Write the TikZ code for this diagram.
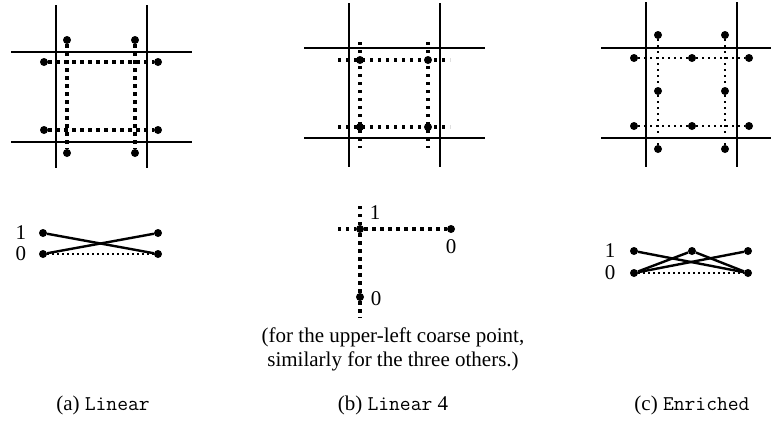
\documentclass[tikz,border=0pt]{standalone}
\usepackage{fontspec}
\setmainfont{Liberation Serif}
\begin{document}
\begin{tikzpicture}[x=1pt,y=-1pt,
  gridline/.style={line width=2.4pt},
  thickdot/.style={line width=3.4pt, dash pattern=on 3.4pt off 4.6pt},
  thindot/.style={line width=2.2pt, dash pattern=on 2.2pt off 3.8pt},
  finedot/.style={line width=2pt, dash pattern=on 2pt off 3pt},
  solidlink/.style={line width=2.4pt},
  dot/.style={circle, fill, inner sep=0pt, minimum size=8pt},
  lab/.style={font=\fontsize{21}{24}\selectfont, inner sep=0pt},
]
\useasboundingbox (0,0) rectangle (772,421);

% ---------- (a) Linear: fine grid ----------
\draw[gridline] (56,5) -- (56,168) (147,5) -- (147,168)
                (11,52) -- (192,52) (11,142) -- (192,142);
\node[dot] (aT1) at (67,40) {};
\node[dot] (aT2) at (135,40) {};
\node[dot] (aL1) at (44,62) {};
\node[dot] (aR1) at (158,62) {};
\node[dot] (aL2) at (44,130) {};
\node[dot] (aR2) at (158,130) {};
\node[dot] (aB1) at (67,153) {};
\node[dot] (aB2) at (135,153) {};
\draw[thickdot] (aL1) -- (aR1);
\draw[thickdot] (aL2) -- (aR2);
\draw[thickdot] (aT1) -- (aB1);
\draw[thickdot] (aT2) -- (aB2);

% ---------- (b) Linear 4: fine grid ----------
\draw[gridline] (349,3) -- (349,167) (440,3) -- (440,167)
                (304,48) -- (485,48) (304,138) -- (485,138);
\coordinate (bH1s) at (338,60);  \coordinate (bH1e) at (450,60);
\coordinate (bH2s) at (338,127); \coordinate (bH2e) at (450,127);
\coordinate (bV1s) at (360,42);  \coordinate (bV1e) at (360,148);
\coordinate (bV2s) at (428,42);  \coordinate (bV2e) at (428,148);
\draw[thickdot] (bH1s) -- (bH1e);
\draw[thickdot] (bH2s) -- (bH2e);
\draw[thickdot] (bV1s) -- (bV1e);
\draw[thickdot] (bV2s) -- (bV2e);
\node[dot] (bP1) at (360,60) {};
\node[dot] (bP2) at (428,60) {};
\node[dot] (bP3) at (360,127) {};
\node[dot] (bP4) at (428,127) {};

% ---------- (c) Enriched: fine grid ----------
\draw[gridline] (646,2) -- (646,167) (737,2) -- (737,167)
                (601,48) -- (771,48) (601,138) -- (771,138);
\node[dot] (cT1) at (658,35) {};
\node[dot] (cT2) at (725,35) {};
\node[dot] (cL1) at (634,58) {};
\node[dot] (cM1) at (692,58) {};
\node[dot] (cR1) at (749,58) {};
\node[dot] (cS1) at (658,91) {};
\node[dot] (cS2) at (725,91) {};
\node[dot] (cL2) at (634,126) {};
\node[dot] (cM2) at (692,126) {};
\node[dot] (cR2) at (749,126) {};
\node[dot] (cB1) at (658,149) {};
\node[dot] (cB2) at (725,149) {};
\draw[thindot] (cL1) -- (cM1) -- (cR1);
\draw[thindot] (cL2) -- (cM2) -- (cR2);
\draw[thindot] (cT1) -- (cS1) -- (cB1);
\draw[thindot] (cT2) -- (cS2) -- (cB2);

% ---------- basis functions ----------
% (a)
\node[dot] (a1l) at (43,233) {};
\node[dot] (a1r) at (158,233) {};
\node[dot] (a0l) at (43,254) {};
\node[dot] (a0r) at (158,254) {};
\draw[solidlink] (a1l) -- (a0r);
\draw[solidlink] (a0l) -- (a1r);
\draw[finedot] (a0l) -- (a0r);
\node[lab] (a1t) at (21,233) {1};
\node[lab] (a0t) at (21,254) {0};

% (b)
\coordinate (bhs) at (338,229);
\coordinate (bvs) at (360,206);
\coordinate (bve) at (360,318);
\node[dot] (bc) at (360,229) {};
\node[dot] (br) at (451,229) {};
\node[dot] (bd) at (360,297) {};
\draw[thickdot] (bhs) -- (bc) -- (br);
\draw[thickdot] (bvs) -- (bc) -- (bd) -- (bve);
\node[lab] (b1t) at (375,213) {1};
\node[lab] (b0r) at (451,247) {0};
\node[lab] (b0d) at (376,299) {0};
\node[lab, anchor=base] (bnote1) at (393,342) {(for the upper-left coarse point,};
\node[lab, anchor=base] (bnote2) at (393,366) {similarly for the three others.)};

% (c)
\node[dot] (c1l) at (634,251) {};
\node[dot] (c1m) at (692,251) {};
\node[dot] (c1r) at (748,251) {};
\node[dot] (c0l) at (634,273) {};
\node[dot] (c0r) at (748,273) {};
\draw[solidlink] (c1l) -- (c0r);
\draw[solidlink] (c0l) -- (c1m) -- (c0r);
\draw[solidlink] (c0l) -- (c1r);
\draw[finedot] (c0l) -- (c0r);
\node[lab] (c1t) at (610,251) {1};
\node[lab] (c0t) at (610,273) {0};

% ---------- captions ----------
\node[lab, anchor=base] (capa) at (103,410) {(a) \texttt{Linear}};
\node[lab, anchor=base] (capb) at (393,410) {(b) \texttt{Linear} 4};
\node[lab, anchor=base] (capc) at (692,410) {(c) \texttt{Enriched}};
\end{tikzpicture}
\end{document}
